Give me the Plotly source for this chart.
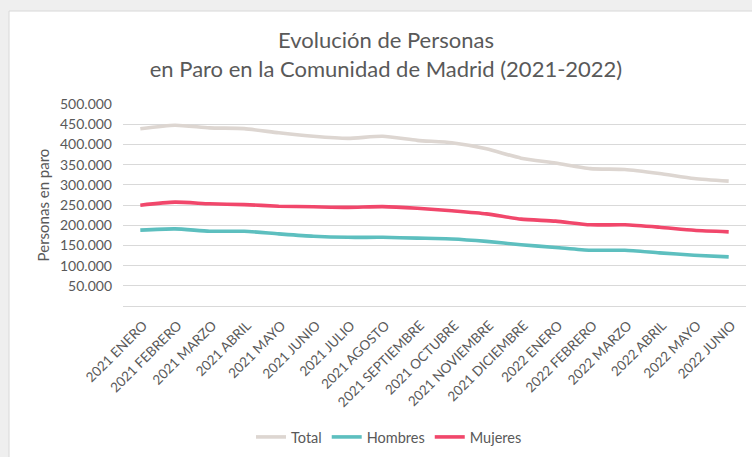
import plotly.graph_objects as go

# Meses del periodo
meses = [
    "2021 ENERO", "2021 FEBRERO", "2021 MARZO", "2021 ABRIL", "2021 MAYO",
    "2021 JUNIO", "2021 JULIO", "2021 AGOSTO", "2021 SEPTIEMBRE", "2021 OCTUBRE",
    "2021 NOVIEMBRE", "2021 DICIEMBRE", "2022 ENERO", "2022 FEBRERO", "2022 MARZO",
    "2022 ABRIL", "2022 MAYO", "2022 JUNIO",
]

# Personas en paro por mes
total = [438600, 447500, 441000, 439000, 428700, 420000, 415000, 420000, 410000,
         404000, 389000, 366000, 354000, 340000, 338000, 328000, 315600, 309000]
hombres = [187700, 191000, 185000, 185000, 178600, 172800, 170000, 170000, 168000,
           166000, 160000, 151500, 145000, 138000, 138000, 131600, 125800, 121700]
mujeres = [249500, 257000, 253000, 251000, 247000, 245500, 244000, 246000, 242000,
           235600, 228000, 215000, 210000, 201000, 201000, 195000, 187600, 183600]

# Marcas del eje vertical
y_ticks = [50000, 100000, 150000, 200000, 250000, 300000, 350000, 400000, 450000, 500000]
y_labels = [f"{v:,}".replace(",", ".") for v in y_ticks]

series = [
    ("Total", total, "#DDD6D1"),
    ("Hombres", hombres, "#5DBFBF"),
    ("Mujeres", mujeres, "#F1476B"),
]

TEXT = "#595959"
FONT = "Lato, 'Open Sans', sans-serif"
W, H = 752, 457

fig = go.Figure()
for nombre, valores, color in series:
    fig.add_trace(go.Scatter(
        x=meses, y=valores, name=nombre, mode="lines",
        line=dict(color=color, width=3.6, shape="spline", smoothing=0.6),
    ))

fig.update_layout(
    width=W, height=H,
    paper_bgcolor="#EFEFEF",
    plot_bgcolor="rgba(0,0,0,0)",
    margin=dict(l=123, r=6, t=104, b=151, autoexpand=False),
    font=dict(family=FONT, color=TEXT, size=13),
    title=dict(
        text="Evolución de Personas<br>en Paro en la Comunidad de Madrid (2021-2022)",
        font=dict(family=FONT, size=22, color=TEXT),
        x=386 / W, xanchor="center", yref="container", y=1 - 48 / H, yanchor="top",
    ),
    showlegend=True,
    legend=dict(
        orientation="h", xref="container", x=389 / W, xanchor="center",
        yref="container", y=1 - 437 / H, yanchor="middle",
        bgcolor="rgba(0,0,0,0)",
        font=dict(family=FONT, size=14.5, color=TEXT),
        itemwidth=30, tracegroupgap=0,
    ),
    shapes=[
        dict(type="rect", xref="paper", yref="paper",
             x0=-114 / 623, x1=1.02, y0=-1.0, y1=1 + 93 / 202,
             fillcolor="white", line=dict(color="#D8D8D8", width=1),
             layer="below"),
    ],
)

fig.update_xaxes(
    type="category", range=[-0.5, len(meses) - 0.5], tickangle=-45,
    showgrid=False, showline=False, ticks="", automargin=False,
    ticklabelshift=3, ticklabelstandoff=8,
    tickfont=dict(family=FONT, size=13.5, color=TEXT),
)
fig.update_yaxes(
    range=[0, 500000], tickvals=y_ticks, ticktext=y_labels, automargin=False,
    showgrid=True, gridcolor="#D9D9D9", gridwidth=1,
    zeroline=True, zerolinecolor="#D9D9D9", zerolinewidth=1,
    tickfont=dict(family=FONT, size=14, color=TEXT), ticks="",
    ticklabelstandoff=10,
    title=dict(text="Personas en paro", font=dict(family=FONT, size=15, color=TEXT), standoff=6),
)

fig.write_html("out.html")
